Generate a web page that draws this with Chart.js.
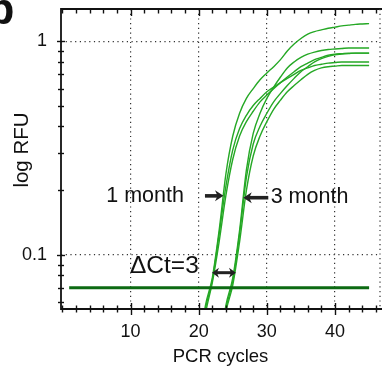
<!DOCTYPE html>
<html><head><meta charset="utf-8">
<script src="https://cdn.jsdelivr.net/npm/chart.js@4.4.1/dist/chart.umd.min.js"></script>
<style>html,body{margin:0;padding:0;background:#fff;overflow:hidden}canvas{display:block}</style>
</head><body>
<canvas id="c" width="382" height="368"></canvas>
<script>
// ---- data ----
const cyclesEarly = [20,21,22,23,24,25,26,27,28,29,30,31,32,33,34,35,36,37,38,39,40,41,42,43,44,45];
const cyclesLate  = [23,24,25,26,27,28,29,30,31,32,33,34,35,36,37,38,39,40,41,42,43,44,45];

const oneMonth1 = [0.035,0.058,0.078,0.13,0.24,0.36,0.46,0.54,0.60,0.66,0.71,0.76,0.82,0.90,0.97,1.03,1.08,1.11,1.13,1.15,1.165,1.18,1.19,1.20,1.205,1.21];
const oneMonth2 = [0.034,0.056,0.076,0.125,0.21,0.31,0.39,0.45,0.50,0.54,0.58,0.61,0.64,0.67,0.70,0.73,0.75,0.77,0.78,0.79,0.795,0.80,0.80,0.80,0.80,0.80];
const oneMonth3 = [0.032,0.053,0.074,0.115,0.19,0.28,0.36,0.42,0.47,0.52,0.56,0.60,0.64,0.68,0.72,0.76,0.79,0.82,0.84,0.86,0.87,0.875,0.88,0.88,0.88,0.88];

const threeMonth1 = [0.035,0.058,0.078,0.13,0.25,0.37,0.46,0.54,0.61,0.68,0.75,0.80,0.84,0.87,0.89,0.905,0.915,0.92,0.925,0.93,0.93,0.93,0.93];
const threeMonth2 = [0.034,0.056,0.075,0.125,0.23,0.33,0.40,0.46,0.52,0.57,0.62,0.67,0.72,0.76,0.80,0.83,0.85,0.865,0.87,0.875,0.88,0.88,0.88];
const threeMonth3 = [0.033,0.054,0.072,0.115,0.20,0.29,0.36,0.42,0.48,0.53,0.58,0.62,0.66,0.70,0.73,0.75,0.76,0.765,0.77,0.77,0.77,0.77,0.77];

const thresholdCycles = [1, 45];
const thresholdRFU = 0.07;

const xTickValues = [0,2,4,6,8,10,12,14,16,18,20,22,24,26,28,30,32,34,36,38,40,42,44,46];
const xTickLabels = [10,20,30,40];
const yTickValues = [0.06,0.07,0.08,0.09,0.1,0.2,0.3,0.4,0.5,0.6,0.7,0.8,0.9,1];
const yTickLabels = [0.1,1];

// annotations (in data units)
const labelTexts = ['1 month','3 month','\u0394Ct=3'];
const labelCycles = [17.84, 30.56, 9.92];
const labelRFU = [0.1887, 0.1858, 0.0886];
const arrowFrom = [20.92, 30.21, 21.95];
const arrowTo   = [23.64, 26.54, 25.47];
const arrowRFU  = [0.1887, 0.185, 0.0824];
const arrowBothEnds = [false, false, true];

// ---- helpers ----
const pts = (xs, ys) => xs.map((c, i) => ({x: c, y: ys[i]}));
const isIn = (arr, v) => arr.some(a => Math.abs(a - v) < 1e-9);
const CURVE = '#25a825';
const curveDs = (xs, ys) => ({data: pts(xs, ys), borderColor: CURVE, borderWidth: 1.4, cubicInterpolationMode: 'monotone', pointRadius: 0, clip: 0});

const overlay = {
  id: 'overlay',
  afterDraw(chart) {
    const {ctx, chartArea: ca, scales: {x, y}} = chart;
    const line = (a, b, c, d) => { ctx.beginPath(); ctx.moveTo(a, b); ctx.lineTo(c, d); ctx.stroke(); };
    ctx.save();
    ctx.strokeStyle = '#111';
    ctx.lineWidth = 1.4;
    xTickValues.forEach(v => {
      const px = Math.round(x.getPixelForValue(v)) + 0.5;
      const major = isIn(xTickLabels, v);
      const lb = major ? 6 : 3.5;
      line(px, ca.bottom - lb, px, ca.bottom + lb);
      line(px, ca.top, px, ca.top + (major ? 7 : 4.5));
    });
    yTickValues.forEach(v => {
      const py = Math.round(y.getPixelForValue(v)) + 0.5;
      const l = isIn(yTickLabels, v) ? 4 : 3;
      line(ca.left - l, py, ca.left + l, py);
    });
    ctx.lineWidth = 1.8;
    line(ca.left, ca.top - 0.9, ca.left, ca.bottom + 0.9);
    line(ca.left, ca.bottom, chart.width, ca.bottom);
    line(ca.left, ca.top, chart.width, ca.top);
    ctx.setLineDash([1.2, 3.5]);
    ctx.lineWidth = 1.2;
    ctx.strokeStyle = '#333';
    line(ca.right, ca.top, ca.right, ca.bottom);
    ctx.setLineDash([]);

    // arrows
    ctx.fillStyle = '#222';
    ctx.strokeStyle = '#222';
    arrowFrom.forEach((f, i) => {
      const x1 = x.getPixelForValue(f), x2 = x.getPixelForValue(arrowTo[i]);
      const py = y.getPixelForValue(arrowRFU[i]);
      const both = arrowBothEnds[i];
      const hl = both ? 7 : 8.5, hw = both ? 5 : 5.5;
      const dir = Math.sign(x2 - x1);
      ctx.lineWidth = both ? 3 : 3.6;
      line(x1 + (both ? dir * hl * 0.6 : 0), py, x2 - dir * hl * 0.6, py);
      const head = (tx, d) => {
        ctx.beginPath();
        ctx.moveTo(tx, py);
        ctx.lineTo(tx - d * hl, py - hw);
        ctx.lineTo(tx - d * hl * 0.7, py);
        ctx.lineTo(tx - d * hl, py + hw);
        ctx.closePath(); ctx.fill();
      };
      head(x2, dir);
      if (both) head(x1, -dir);
    });

    // annotation labels
    ctx.fillStyle = '#111';
    ctx.textBaseline = 'middle';
    labelTexts.forEach((t, i) => {
      ctx.font = (i === 2 ? '24.5px' : '21.5px') + ' "Liberation Sans", Arial, sans-serif';
      ctx.textAlign = i === 0 ? 'right' : 'left';
      ctx.fillText(t, x.getPixelForValue(labelCycles[i]), y.getPixelForValue(labelRFU[i]));
    });

    // y-axis title
    ctx.save();
    ctx.font = '20.5px "Liberation Sans", Arial, sans-serif';
    ctx.textAlign = 'center';
    ctx.textBaseline = 'alphabetic';
    ctx.translate(27.5, 150);
    ctx.rotate(-Math.PI / 2);
    ctx.fillText('log RFU', 0, 0);
    ctx.restore();

    // panel letter (cropped)
    ctx.font = 'bold 44px "Liberation Sans", Arial, sans-serif';
    ctx.textAlign = 'left';
    ctx.textBaseline = 'alphabetic';
    ctx.fillText('b', -12.5, 23.5);
    ctx.restore();
  }
};

const tickFont = {family: '"Liberation Sans", Arial, sans-serif', size: 18};

new Chart(document.getElementById('c'), {
  type: 'line',
  data: {
    datasets: [
      {data: pts(thresholdCycles, thresholdCycles.map(() => thresholdRFU)), borderColor: '#0c6a12', borderWidth: 3, pointRadius: 0, clip: 0},
      curveDs(cyclesEarly, oneMonth1),
      curveDs(cyclesEarly, oneMonth2),
      curveDs(cyclesEarly, oneMonth3),
      curveDs(cyclesLate, threeMonth1),
      curveDs(cyclesLate, threeMonth2),
      curveDs(cyclesLate, threeMonth3)
    ]
  },
  options: {
    responsive: false,
    animation: false,
    devicePixelRatio: 1,
    layout: {padding: {top: 9, right: 2, left: 0, bottom: 0}},
    plugins: {legend: {display: false}, tooltip: {enabled: false}},
    scales: {
      x: {
        type: 'linear', min: -0.2, max: 46.6,
        afterFit: s => { s.height = 59; s.paddingLeft = 0; s.paddingRight = 0; },
        afterBuildTicks: s => { s.ticks = xTickValues.map(v => ({value: v})); },
        ticks: {
          autoSkip: false, maxRotation: 0, padding: 12, color: '#111', font: tickFont,
          callback: v => isIn(xTickLabels, v) ? String(v) : ''
        },
        grid: {drawTicks: false, lineWidth: 1.2,
          color: c => (c.tick && isIn(xTickLabels, c.tick.value)) ? '#333' : 'rgba(0,0,0,0)'},
        border: {display: false, dash: [1.2, 3.5]},
        title: {display: true, text: 'PCR cycles', color: '#111',
          font: {family: '"Liberation Sans", Arial, sans-serif', size: 18.5}, padding: {top: 0, bottom: 0}}
      },
      y: {
        type: 'logarithmic', min: 0.0557, max: 1.416,
        afterFit: s => { s.width = 61; s.paddingTop = 0; s.paddingBottom = 0; },
        afterBuildTicks: s => { s.ticks = yTickValues.map(v => ({value: v})); },
        ticks: {
          autoSkip: false, padding: 14, color: '#111', font: tickFont,
          callback: v => isIn(yTickLabels, v) ? String(v) : ''
        },
        grid: {drawTicks: false, lineWidth: 1.2,
          color: c => (c.tick && isIn(yTickLabels, c.tick.value)) ? '#333' : 'rgba(0,0,0,0)'},
        border: {display: false, dash: [1.2, 3.5]}
      }
    }
  },
  plugins: [overlay]
});
</script>
</body></html>
